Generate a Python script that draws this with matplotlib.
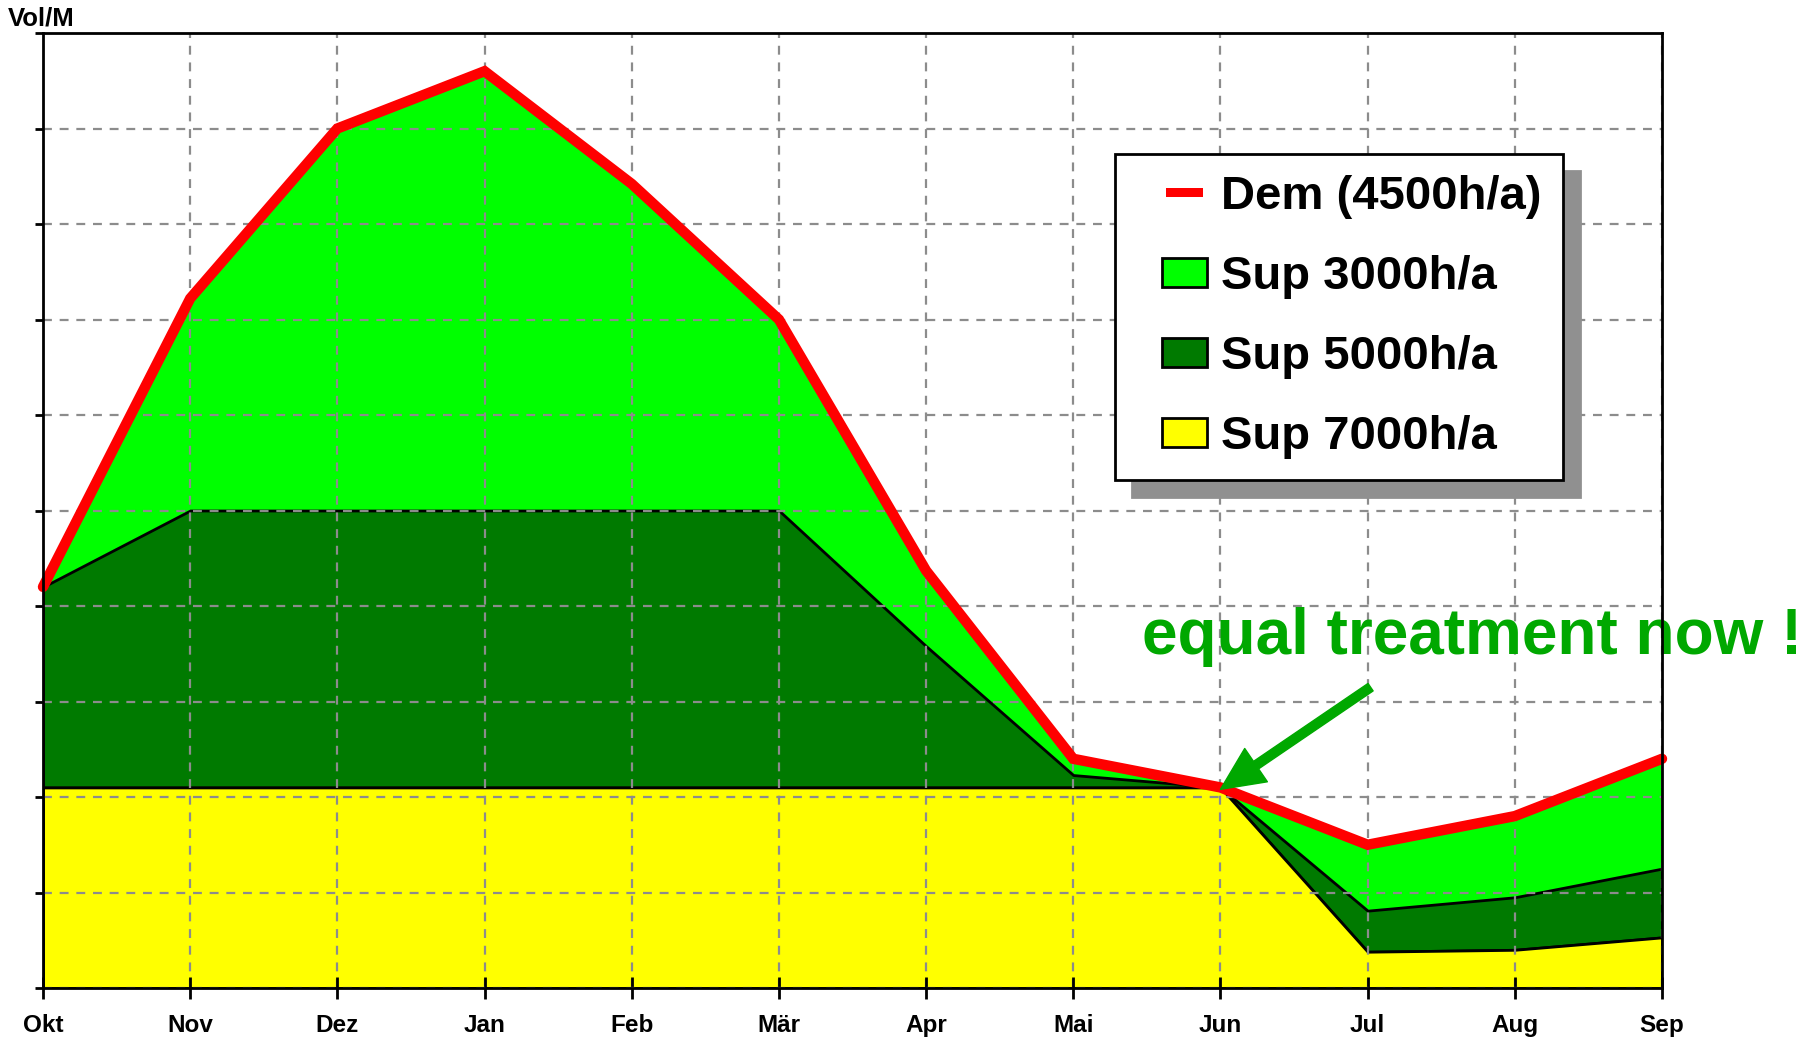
import matplotlib
matplotlib.use('Agg')
import matplotlib.pyplot as plt
from matplotlib.patches import Patch, Rectangle
from matplotlib.legend_handler import HandlerPatch

plt.rcParams['font.family'] = ['Liberation Sans', 'DejaVu Sans']
plt.rcParams['font.weight'] = 'bold'

# month labels (Oct..Sep water year)
months = ['Okt', 'Nov', 'Dez', 'Jan', 'Feb', 'Mär', 'Apr', 'Mai', 'Jun', 'Jul', 'Aug', 'Sep']

# demand line and cumulative supply levels
dem_4500   = [4.2, 7.22, 9.0, 9.6, 8.42, 7.0, 4.37, 2.4, 2.1, 1.5, 1.8, 2.4]
top_5000   = [4.2, 5.0, 5.0, 5.0, 5.0, 5.0, 3.58, 2.23, 2.1, 0.81, 0.95, 1.25]
top_7000   = [2.1, 2.1, 2.1, 2.1, 2.1, 2.1, 2.1, 2.1, 2.1, 0.38, 0.40, 0.53]

C_LIGHT  = '#00FF00'
C_DARK   = '#007A00'
C_YELLOW = '#FFFF00'
C_RED    = '#FF0000'
C_NOTE   = '#00A800'

x = list(range(len(months)))

fig = plt.figure(figsize=(18.05, 10.39), dpi=100)
ax = fig.add_axes([43 / 1805, 1 - 988 / 1039, (1662 - 43) / 1805, (988 - 33) / 1039])

ax.fill_between(x, top_5000, dem_4500, facecolor=C_LIGHT, edgecolor='none', zorder=1)
ax.fill_between(x, top_7000, top_5000, facecolor=C_DARK, edgecolor='black', linewidth=2, zorder=1.1)
ax.fill_between(x, 0, top_7000, facecolor=C_YELLOW, edgecolor='black', linewidth=2, zorder=1.2)
ax.plot(x, dem_4500, color=C_RED, linewidth=7.5, solid_capstyle='round',
        solid_joinstyle='miter', zorder=4, clip_on=False)

ax.set_xlim(0, len(months) - 1)
ax.set_ylim(0, 10)
ax.set_xticks(x)
ax.set_xticklabels(months, fontsize=17.5, fontweight='bold')
ax.set_yticks(range(0, 11))
ax.set_yticklabels([])
ax.tick_params(axis='x', direction='inout', length=16, width=2, pad=11)
ax.tick_params(axis='y', direction='out', length=6, width=2)

ax.grid(True, color='#8c8c8c', linestyle=(0, (4, 3.5)), linewidth=1.6, zorder=2)
ax.set_axisbelow(False)
for s in ax.spines.values():
    s.set_linewidth(2)
    s.set_zorder(5)

fig.text(8 / 1805, 1 - 18 / 1039, 'Vol/M', fontsize=18.5, fontweight='bold', va='center', ha='left')

# annotation
ax.text(7.47, 3.5, 'equal treatment now !', color=C_NOTE, fontsize=46, fontweight='bold',
        ha='left', va='baseline', clip_on=False)
ax.annotate('', xy=(8.0, 2.08), xytext=(9.02, 3.15),
            arrowprops=dict(facecolor=C_NOTE, edgecolor=C_NOTE, width=6.5, headwidth=29,
                            headlength=31, shrink=0), zorder=6)


# legend keys sit at the right side of a wider handle box (wide left margin); sizes in points
def box_key(legend, orig_handle, xdescent, ydescent, width, height, fontsize):
    w = 32.5
    return Rectangle((-xdescent + width - w, -ydescent), w, height)


def line_key(legend, orig_handle, xdescent, ydescent, width, height, fontsize):
    w, h = 26.5, 6.8
    return Rectangle((-xdescent + width - w - 3, -ydescent + height / 2 - h / 2), w, h)


handles = [
    Patch(facecolor=C_RED, edgecolor='none'),
    Patch(facecolor=C_LIGHT, edgecolor='black', linewidth=2),
    Patch(facecolor=C_DARK, edgecolor='black', linewidth=2),
    Patch(facecolor=C_YELLOW, edgecolor='black', linewidth=2),
]
labels = ['Dem (4500h/a)', 'Sup 3000h/a', 'Sup 5000h/a', 'Sup 7000h/a']
hmap = {handles[0]: HandlerPatch(patch_func=line_key)}
for h in handles[1:]:
    hmap[h] = HandlerPatch(patch_func=box_key)

leg = fig.legend(handles, labels, handler_map=hmap, loc='upper left',
                 bbox_to_anchor=(1115 / 1805, 1 - 154 / 1039),
                 borderaxespad=0, fancybox=False, framealpha=1, edgecolor='black',
                 prop={'size': 34, 'weight': 'bold'}, handlelength=1.5, handleheight=0.57,
                 handletextpad=0.3, labelspacing=0.76, borderpad=0.45,
                 shadow={'ox': 12, 'oy': -12, 'color': '#909090', 'alpha': 1})
leg.get_frame().set_linewidth(2)

fig.savefig('out.png', dpi=100)
